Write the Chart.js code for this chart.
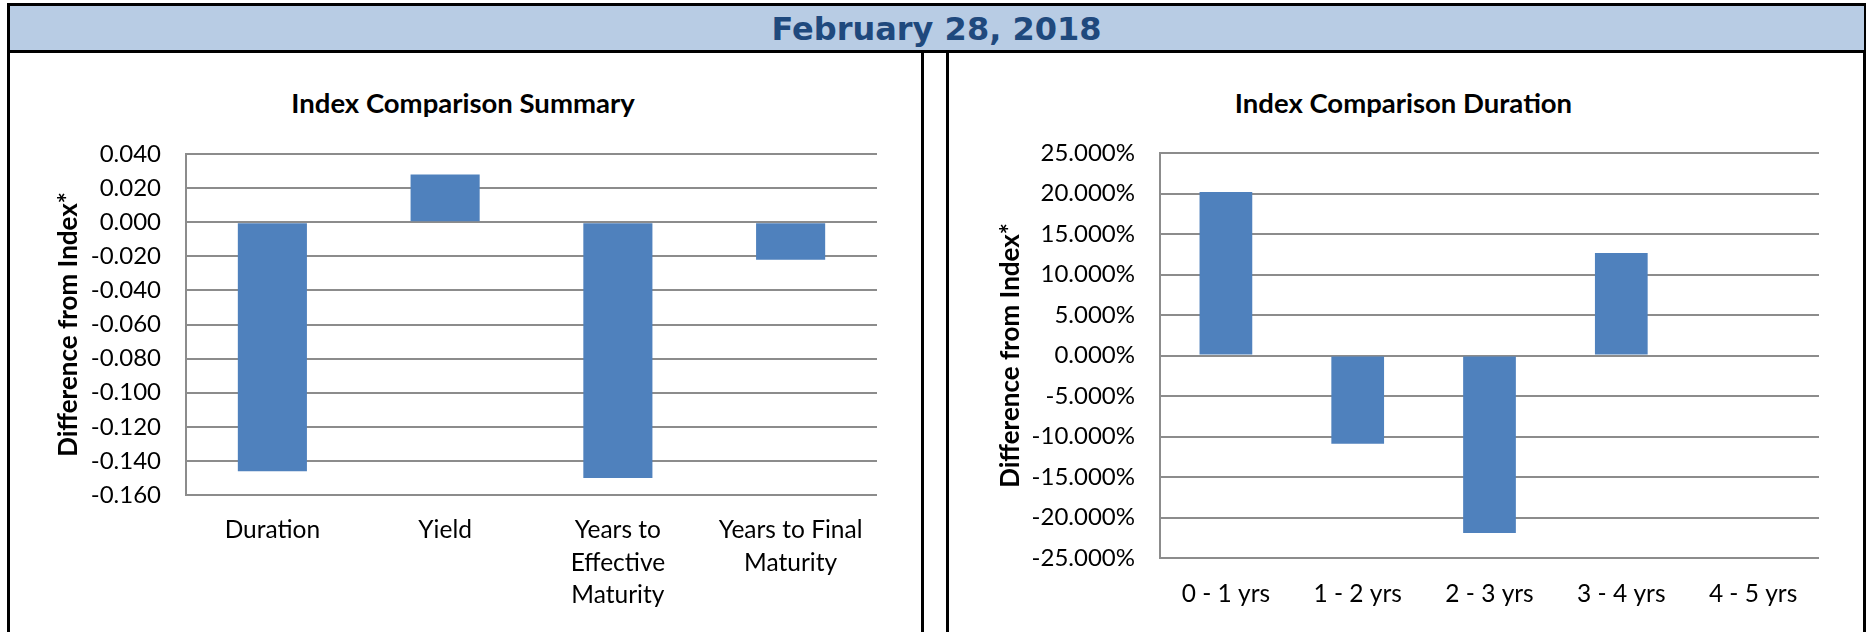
<!DOCTYPE html>
<html>
<head>
<meta charset="utf-8">
<title>Index Comparison - February 28, 2018</title>
<script src="https://cdn.jsdelivr.net/npm/chart.js@4.4.1/dist/chart.umd.min.js"></script>
<style>
  body { margin: 0; background: #fff; width: 1869px; height: 632px; overflow: hidden; position: relative; }
  .line { position: absolute; background: #000; }
  #band { position: absolute; left: 7px; top: 5px; width: 1859px; height: 45px; background: #B8CCE4; }
  #date { position: absolute; left: 7px; top: 7px; width: 1859px; height: 44px; line-height: 44px; text-align: center;
          font-family: "DejaVu Sans", Verdana, sans-serif; font-weight: bold; font-size: 32px; color: #1F497D; }
  .chart-title { position: absolute; top: 87px; height: 32px; line-height: 32px; text-align: center;
                 font-family: Lato, sans-serif; font-weight: bold; font-size: 27.5px; color: #000; }
  canvas { position: absolute; top: 53px; }
</style>
</head>
<body>
<div id="band"></div>
<div id="date">February 28, 2018</div>
<div class="line" style="left:7px;top:3px;width:1859px;height:3px"></div>
<div class="line" style="left:7px;top:50px;width:1859px;height:3px"></div>
<div class="line" style="left:7px;top:3px;width:3px;height:629px"></div>
<div class="line" style="left:921px;top:52px;width:3px;height:580px"></div>
<div class="line" style="left:946px;top:52px;width:3px;height:580px"></div>
<div class="line" style="left:1864px;top:3px;width:2px;height:50px"></div>
<div class="line" style="left:1863px;top:50px;width:3px;height:582px"></div>

<div class="chart-title" style="left:10px;width:906px">Index Comparison Summary</div>
<div class="chart-title" style="left:948px;width:911px">Index Comparison Duration</div>

<canvas id="summaryChart" width="911" height="579" style="left:10px"></canvas>
<canvas id="durationChart" width="915" height="579" style="left:948px"></canvas>

<script>
// Summary chart data
const summaryLabels = ["Duration", "Yield", ["Years to", "Effective", "Maturity"], ["Years to Final", "Maturity"]];
const summaryValues = [-0.146, 0.028, -0.150, -0.022];
const summaryTicks = [-0.16, -0.14, -0.12, -0.10, -0.08, -0.06, -0.04, -0.02, 0, 0.02, 0.04];

// Duration chart data
const durationLabels = ["0 - 1 yrs", "1 - 2 yrs", "2 - 3 yrs", "3 - 4 yrs", "4 - 5 yrs"];
const durationValues = [0.202, -0.109, -0.219, 0.1265, 0];
const durationTicks = [-0.25, -0.20, -0.15, -0.10, -0.05, 0, 0.05, 0.10, 0.15, 0.20, 0.25];

const barColor = "#4F81BD";
const gridColor = "#8c8c8c";

Chart.defaults.font.family = "Lato";
Chart.defaults.color = "#000";

// Build options for one of the two panels
function buildOptions(cfg) {
  return {
    responsive: false,
    animation: false,
    layout: { padding: { left: 0, right: cfg.padRight, top: cfg.padTop, bottom: 0 } },
    plugins: {
      legend: { display: false },
      tooltip: { enabled: false },
    },
    scales: {
      x: {
        grid: { display: false, drawTicks: false },
        border: { display: false },
        ticks: { font: { size: 24.5, lineHeight: 1.327 }, padding: cfg.labelPad, maxRotation: 0, autoSkip: false },
        afterFit: (scale) => { scale.height = cfg.xHeight; },
      },
      y: {
        min: cfg.ticks[0],
        max: cfg.ticks[cfg.ticks.length - 1],
        afterBuildTicks: (scale) => { scale.ticks = cfg.ticks.map((v) => ({ value: v })); },
        grid: { color: gridColor, lineWidth: 2, drawTicks: false },
        border: { display: true, color: gridColor, width: 2 },
        ticks: { font: { size: 24 }, padding: cfg.tickPad, callback: cfg.format },
        title: {
          display: true,
          text: "Difference from Index*",
          font: { size: 26, weight: "bold" },
          padding: { top: cfg.titlePad, bottom: 0 },
        },
        afterFit: (scale) => { scale.width = cfg.yWidth; },
      },
    },
  };
}

function createChart(id, labels, values, options) {
  const ctx = document.getElementById(id).getContext("2d");
  return new Chart(ctx, {
    type: "bar",
    data: {
      labels: labels,
      datasets: [{
        data: values,
        backgroundColor: barColor,
        borderWidth: 0,
        barPercentage: 0.4,
        categoryPercentage: 1,
      }],
    },
    options: options,
  });
}

createChart("summaryChart", summaryLabels, summaryValues, buildOptions({
  padRight: 44, padTop: 101, xHeight: 137, yWidth: 176, tickPad: 25, titlePad: 43, labelPad: 19,
  ticks: summaryTicks,
  format: (v) => Number(v).toFixed(3),
}));

createChart("durationChart", durationLabels, durationValues, buildOptions({
  padRight: 44, padTop: 100, xHeight: 74, yWidth: 212, tickPad: 25, titlePad: 47, labelPad: 20,
  ticks: durationTicks,
  format: (v) => (Number(v) * 100).toFixed(3) + "%",
}));
</script>
</body>
</html>
